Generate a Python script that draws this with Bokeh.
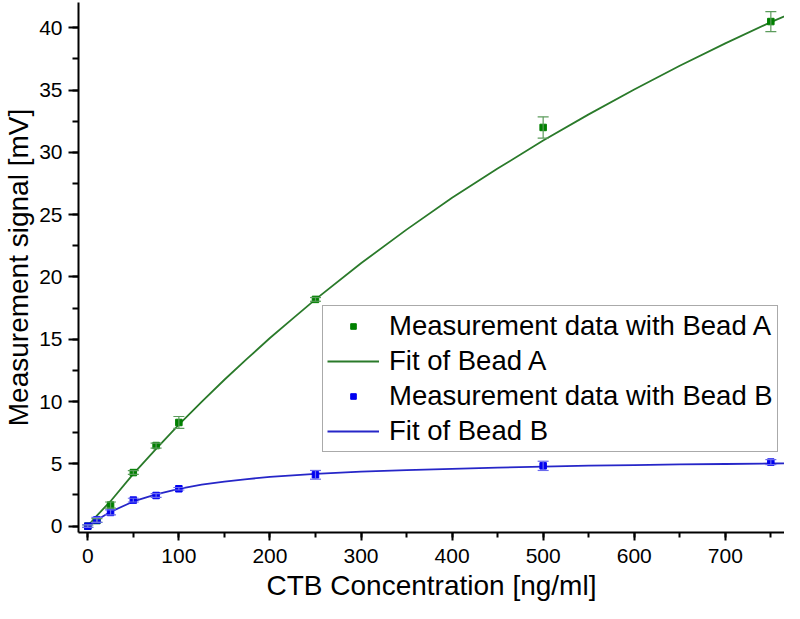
from bokeh.plotting import figure
from bokeh.models import (Range1d, SingleIntervalTicker, Legend, LegendItem,
                          ColumnDataSource, Whisker, TeeHead)
from bokeh.embed import file_html
from bokeh.resources import INLINE

# ---- data ----
conc = [0, 10, 25, 50, 75, 100, 250, 500, 750]
bead_a = [0.0, 0.45, 1.69, 4.3, 6.47, 8.32, 18.2, 32.0, 40.5]
bead_a_err = [0.1, 0.15, 0.25, 0.15, 0.2, 0.48, 0.15, 0.85, 0.8]
bead_b = [0.0, 0.5, 1.1, 2.09, 2.46, 3.0, 4.12, 4.84, 5.14]
bead_b_err = [0.1, 0.2, 0.2, 0.15, 0.15, 0.1, 0.35, 0.37, 0.2]

fit_x = [0, 10, 25, 50, 75, 100, 125, 150, 175, 200, 225, 250, 300, 350,
         400, 450, 500, 550, 600, 650, 700, 750, 780]
fit_a = [0.0, 0.85, 2.0, 4.2, 6.2, 8.15, 9.97, 11.75, 13.44, 15.1, 16.66,
         18.2, 21.1, 23.8, 26.35, 28.7, 30.95, 33.05, 35.05, 36.95, 38.75,
         40.45, 41.4]
fit_b = [0.0, 0.5, 1.15, 1.98, 2.55, 3.0, 3.33, 3.58, 3.78, 3.95, 4.08,
         4.2, 4.38, 4.5, 4.6, 4.7, 4.78, 4.85, 4.9, 4.95, 4.99, 5.03, 5.05]

label_a = "Measurement data with Bead A"
label_fa = "Fit of Bead A"
label_b = "Measurement data with Bead B"
label_fb = "Fit of Bead B"
x_title = "CTB Concentration [ng/ml]"
y_title = "Measurement signal [mV]"

FONT = "Liberation Sans"
GREEN_M = "#008000"
GREEN_L = "#2a7a2a"
GREEN_E = "#5c9c5c"
BLUE_M = "#0000f0"
BLUE_L = "#2626c8"
BLUE_E = "#6a6aee"

p = figure(width=784, height=603,
           x_range=Range1d(-10.2, 765), y_range=Range1d(-0.51, 42.03),
           output_backend="svg", toolbar_location=None,
           min_border_left=78, min_border_right=0, min_border_top=2,
           min_border_bottom=71)
p.outline_line_color = None
p.xgrid.visible = False
p.ygrid.visible = False

p.xaxis.ticker = SingleIntervalTicker(interval=100, num_minor_ticks=2)
p.yaxis.ticker = SingleIntervalTicker(interval=5, num_minor_ticks=2)

for ax in (p.xaxis, p.yaxis):
    ax.axis_line_width = 2
    ax.axis_line_color = "black"
    ax.major_tick_line_width = 2
    ax.minor_tick_line_width = 2
    ax.major_tick_in = 0
    ax.minor_tick_in = 0
    ax.major_label_text_font = FONT
    ax.major_label_text_font_size = "21px"
    ax.major_label_text_color = "black"
    ax.axis_label_text_font = FONT
    ax.axis_label_text_font_size = "28px"
    ax.axis_label_text_font_style = "normal"
    ax.axis_label_text_color = "black"

p.xaxis.major_tick_out = 8
p.xaxis.minor_tick_out = 5
p.yaxis.major_tick_out = 10
p.yaxis.minor_tick_out = 6
p.xaxis.major_label_standoff = 8
p.yaxis.major_label_standoff = 6
p.xaxis.axis_label = x_title
p.yaxis.axis_label = y_title
p.xaxis.axis_label_standoff = 4
p.yaxis.axis_label_standoff = 2

# error bars
src_a = ColumnDataSource(dict(x=conc, y=bead_a,
                              lo=[v - e for v, e in zip(bead_a, bead_a_err)],
                              hi=[v + e for v, e in zip(bead_a, bead_a_err)]))
src_b = ColumnDataSource(dict(x=conc, y=bead_b,
                              lo=[v - e for v, e in zip(bead_b, bead_b_err)],
                              hi=[v + e for v, e in zip(bead_b, bead_b_err)]))

for src, col in ((src_a, GREEN_E), (src_b, BLUE_E)):
    w = Whisker(source=src, base="x", lower="lo", upper="hi",
                line_color=col, line_width=1.2,
                upper_head=TeeHead(size=11, line_color=col, line_width=1.2),
                lower_head=TeeHead(size=11, line_color=col, line_width=1.2))
    w.level = "glyph"
    p.add_layout(w)

r_fa = p.line(fit_x, fit_a, line_color=GREEN_L, line_width=1.8)
r_a = p.scatter(conc, bead_a, marker="square", size=6.5, fill_color=GREEN_M,
                line_color=GREEN_M)
r_fb = p.line(fit_x, fit_b, line_color=BLUE_L, line_width=1.8)
r_b = p.scatter(conc, bead_b, marker="square", size=6.5, fill_color=BLUE_M,
                line_color=BLUE_M)

legend = Legend(items=[LegendItem(label=label_a, renderers=[r_a]),
                       LegendItem(label=label_fa, renderers=[r_fa]),
                       LegendItem(label=label_b, renderers=[r_b]),
                       LegendItem(label=label_fb, renderers=[r_fb])],
                location=(244, 80),
                border_line_color="#555555", border_line_width=1,
                background_fill_color="white", background_fill_alpha=1,
                label_text_font=FONT, label_text_font_size="27.5px",
                label_text_color="black", label_height=28,
                glyph_width=52, glyph_height=14, label_standoff=10,
                spacing=3, padding=4, margin=0)
p.add_layout(legend)

open("out.html", "w").write(file_html(p, INLINE))
